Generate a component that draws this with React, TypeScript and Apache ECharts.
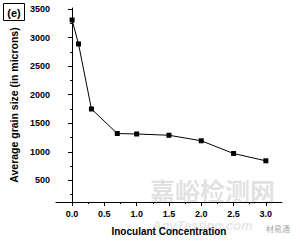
import React, { useEffect, useRef } from "react";
import * as echarts from "echarts";

const concentrations = [0.0, 0.1, 0.3, 0.7, 1.0, 1.5, 2.0, 2.5, 3.0];
const grainSize = [3310, 2890, 1750, 1320, 1312, 1290, 1193, 970, 842];
const xMajorTicks = [0, 0.5, 1.0, 1.5, 2.0, 2.5, 3.0];
const xMinorTicks = [0.25, 0.75, 1.25, 1.75, 2.25, 2.75];
const yMajorTicks = [500, 1000, 1500, 2000, 2500, 3000, 3500];
const yMinorTicks = [250, 750, 1250, 1750, 2250, 2750, 3250];

const FONT = "'Liberation Sans', Arial, sans-serif";

export default function App() {
  const ref = useRef<HTMLDivElement>(null);
  useEffect(() => {
    if (!ref.current) return;
    document.body.style.margin = "0";
    const chart = echarts.init(ref.current, undefined, { renderer: "svg" });
    const axisLine = { show: true, lineStyle: { color: "#000", width: 1 } };
    chart.setOption({
      animation: false,
      backgroundColor: "#fff",
      grid: { left: 44, right: 18, top: 8, bottom: 36 },
      xAxis: [
        {
          type: "value",
          min: -0.25,
          max: 3.25,
          axisLine,
          splitLine: { show: false },
          axisTick: { show: true, customValues: xMajorTicks, length: 4, lineStyle: { color: "#000" } },
          axisLabel: {
            customValues: xMajorTicks,
            formatter: (v: number) => v.toFixed(1),
            color: "#000",
            fontFamily: FONT,
            fontWeight: "bold",
            fontSize: 9,
            margin: 7,
          },
          name: "Inoculant Concentration",
          nameLocation: "middle",
          nameGap: 24,
          nameTextStyle: { color: "#000", fontFamily: FONT, fontWeight: "bold", fontSize: 10 },
        },
        {
          type: "value",
          min: -0.25,
          max: 3.25,
          position: "bottom",
          axisLine: { show: false },
          splitLine: { show: false },
          axisTick: { show: true, customValues: xMinorTicks, length: 2, lineStyle: { color: "#000" } },
          axisLabel: { show: false },
        },
      ],
      yAxis: [
        {
          type: "value",
          min: 120,
          max: 3520,
          axisLine,
          splitLine: { show: false },
          axisTick: { show: true, customValues: yMajorTicks, length: 4, lineStyle: { color: "#000" } },
          axisLabel: {
            customValues: yMajorTicks,
            formatter: (v: number) => String(v),
            color: "#000",
            fontFamily: FONT,
            fontWeight: "bold",
            fontSize: 9,
            margin: 6,
          },
          name: "Average grain size (in microns)",
          nameLocation: "middle",
          nameGap: 35,
          nameTextStyle: { color: "#000", fontFamily: FONT, fontWeight: "bold", fontSize: 10.5 },
        },
        {
          type: "value",
          min: 120,
          max: 3520,
          position: "left",
          axisLine: { show: false },
          splitLine: { show: false },
          axisTick: { show: true, customValues: yMinorTicks, length: 2, lineStyle: { color: "#000" } },
          axisLabel: { show: false },
        },
      ],
      series: [
        {
          type: "line",
          data: concentrations.map((c, i) => [c, grainSize[i]]),
          symbol: "rect",
          symbolSize: 5,
          lineStyle: { color: "#000", width: 1 },
          itemStyle: { color: "#000" },
        },
      ],
      graphic: [
        {
          type: "text",
          left: 150,
          top: 177,
          silent: true,
          style: { text: "嘉峪检测网", fill: "rgba(170,170,170,0.35)", fontSize: 25, fontFamily: "'Noto Sans CJK SC', sans-serif", fontWeight: "bold" },
        },
        {
          type: "text",
          left: 152,
          top: 219,
          silent: true,
          style: { text: "AnyTesting.com", fill: "rgba(170,170,170,0.3)", fontSize: 13, fontStyle: "italic", fontWeight: "bold", fontFamily: FONT },
        },
        {
          type: "text",
          left: 266,
          top: 224,
          silent: true,
          style: { text: "材易通", fill: "rgba(140,140,140,0.8)", fontSize: 8, fontFamily: "'Noto Sans CJK SC', sans-serif" },
        },
        {
          type: "rect",
          shape: { x: 3.5, y: 3.5, width: 21, height: 17 },
          style: { fill: "#fff", stroke: "#000", lineWidth: 1 },
        },
        {
          type: "text",
          x: 14,
          y: 12.5,
          style: { text: "(e)", fill: "#000", fontSize: 11, fontWeight: "bold", fontFamily: FONT, align: "center", verticalAlign: "middle" },
        },
      ],
    });
    return () => chart.dispose();
  }, []);
  return <div ref={ref} style={{ width: 300, height: 241 }} />;
}
